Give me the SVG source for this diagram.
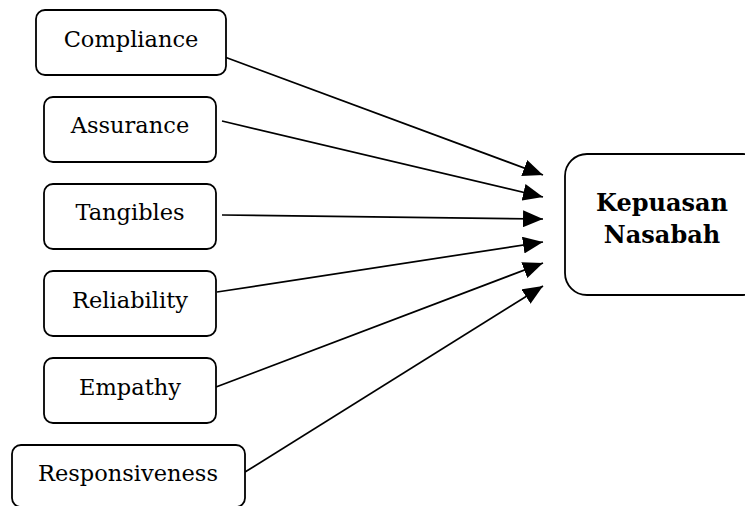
<svg xmlns="http://www.w3.org/2000/svg" width="745" height="506" viewBox="0 0 745 506">
<style>
.box{fill:#fff;stroke:#000;stroke-width:1.8}
.lbl{font-family:"DejaVu Serif","Liberation Serif",serif;font-size:22.5px;fill:#000;text-anchor:middle}
.bold{font-family:"DejaVu Serif","Liberation Serif",serif;font-size:24px;font-weight:bold;fill:#000;text-anchor:middle}
.conn{stroke:#000;stroke-width:1.7;fill:none;marker-end:url(#ah)}
</style>
<defs>
<marker id="ah" markerUnits="userSpaceOnUse" viewBox="0 0 20 17" refX="20" refY="8.5" markerWidth="20" markerHeight="17" orient="auto">
<path d="M0,0 L20,8.5 L0,17 Z" fill="#000"/>
</marker>
</defs>
<rect width="745" height="506" fill="#fff"/>
<g id="connectors">
<line class="conn" x1="222" y1="56" x2="543" y2="175"/>
<line class="conn" x1="222" y1="121" x2="543" y2="197"/>
<line class="conn" x1="222" y1="215" x2="543" y2="219"/>
<line class="conn" x1="217" y1="292" x2="543" y2="242"/>
<line class="conn" x1="216" y1="387" x2="543" y2="263"/>
<line class="conn" x1="245" y1="472" x2="543" y2="286"/>
</g>
<g id="compliance"><rect class="box" x="36" y="10" width="190" height="65" rx="9"/><text class="lbl" x="131" y="47">Compliance</text></g>
<g id="assurance"><rect class="box" x="44" y="97" width="172" height="65" rx="9"/><text class="lbl" x="130" y="133">Assurance</text></g>
<g id="tangibles"><rect class="box" x="44" y="184" width="172" height="65" rx="9"/><text class="lbl" x="130" y="220">Tangibles</text></g>
<g id="reliability"><rect class="box" x="44" y="271" width="172" height="65" rx="9"/><text class="lbl" x="130" y="308">Reliability</text></g>
<g id="empathy"><rect class="box" x="44" y="358" width="172" height="65" rx="9"/><text class="lbl" x="130" y="395">Empathy</text></g>
<g id="responsiveness"><rect class="box" x="12" y="445" width="233" height="62" rx="9"/><text class="lbl" x="128" y="481">Responsiveness</text></g>
<g id="kepuasan"><rect class="box" x="565" y="154" width="200" height="141" rx="22"/><text class="bold" x="662" y="211">Kepuasan</text><text class="bold" x="662" y="243">Nasabah</text></g>
</svg>
